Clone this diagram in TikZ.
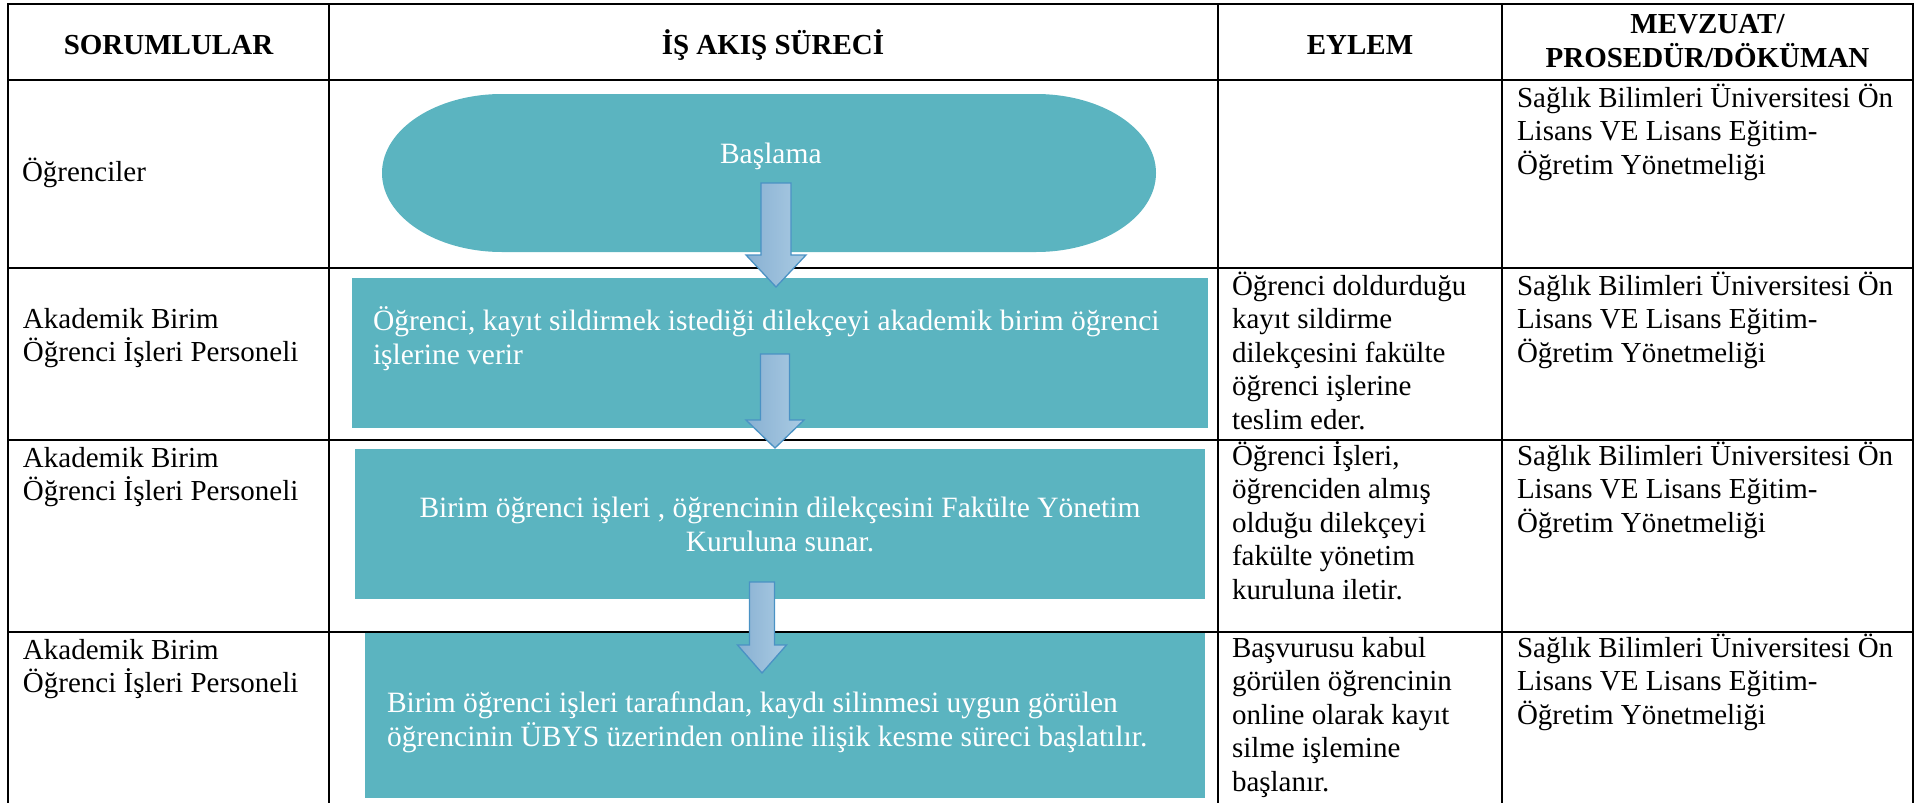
\documentclass[tikz,border=0pt]{standalone}
\usepackage{fontspec}
\setmainfont{Liberation Serif}
\usetikzlibrary{calc}
\definecolor{tealbox}{RGB}{91,180,192}
\definecolor{arrL}{RGB}{136,176,210}
\definecolor{arrR}{RGB}{170,203,227}
\definecolor{arrE}{RGB}{74,146,196}
\newcommand\tlines[1]{\vtop{\halign{##\hfil\cr #1\crcr}}}
\newcommand\clines[1]{\vtop{\halign{\hfil##\hfil\cr #1\crcr}}}
\newcommand\blockarrow[5]{%
  \path[arrowstyle] ($(#1)+(-#3,0)$) -- ($(#1)+(#3,0)$) -- ($(#2)+(#3,-#5)$) -- ($(#2)+(#4,-#5)$) -- (#2) -- ($(#2)+(-#4,-#5)$) -- ($(#2)+(-#3,-#5)$) -- cycle;}
\tikzset{
  grid/.style={line width=2.6pt, line cap=rect, black},
  body/.style={font=\fontsize{29}{33.6}\selectfont, inner sep=0pt, outer sep=0pt, anchor=base west},
  wbody/.style={font=\fontsize{29.5}{34}\selectfont, inner sep=0pt, outer sep=0pt, anchor=base west, text=white},
  head/.style={font=\bfseries\fontsize{29}{33.6}\selectfont, inner sep=0pt, outer sep=0pt, anchor=base},
  flowbox/.style={fill=tealbox, draw=none, inner sep=0pt, outer sep=0pt, anchor=north west},
  arrowstyle/.style={left color=arrL, right color=arrR, draw=arrE, line width=1.3pt, line join=miter},
}
\begin{document}
\begin{tikzpicture}[x=1pt, y=-1pt]
\useasboundingbox (0,0) rectangle (1928,803);
% table grid
\draw[grid] (8,4) -- (1913,4);
\draw[grid] (8,80) -- (1913,80);
\draw[grid] (8,268) -- (1913,268);
\draw[grid] (8,440) -- (1913,440);
\draw[grid] (8,632) -- (1913,632);
\foreach \xx in {8,329,1218,1502,1913} \draw[grid] (\xx,4) -- (\xx,806);
% header
\node[head] (h1) at (168.5,54) {SORUMLULAR};
\node[head] (h2) at (773,54) {İŞ AKIŞ SÜRECİ};
\node[head] (h3) at (1360,54) {EYLEM};
\node[head] (h4) at (1707.5,34) {MEVZUAT/};
\node[head] (h5) at (1707.5,67) {PROSEDÜR/DÖKÜMAN};
% responsible
\node[body] (r1) at (22,181) {Öğrenciler};
\node[body] (r2) at (23,328) {\tlines{Akademik Birim\cr Öğrenci İşleri Personeli}};
\node[body] (r3) at (23,467) {\tlines{Akademik Birim\cr Öğrenci İşleri Personeli}};
\node[body] (r4) at (23,659) {\tlines{Akademik Birim\cr Öğrenci İşleri Personeli}};
% flow shapes
\path[fill=tealbox] (502,94) -- (1036,94) .. controls (1102.3,94) and (1156,129.4) .. (1156,173)
  .. controls (1156,216.6) and (1102.3,252) .. (1036,252) -- (502,252)
  .. controls (435.7,252) and (382,216.6) .. (382,173) .. controls (382,129.4) and (435.7,94) .. (502,94) -- cycle;
\node[wbody] (start) at (720,163) {Başlama};
\node[flowbox, minimum width=856pt, minimum height=150pt] (b2) at (352,278) {};
\node[flowbox, minimum width=850pt, minimum height=150pt] (b3) at (355,449) {};
\node[flowbox, minimum width=840pt, minimum height=165pt] (b4) at (365,633) {};
\node[wbody] (t2) at (373,330) {\tlines{Öğrenci, kayıt sildirmek istediği dilekçeyi akademik birim öğrenci\cr işlerine verir}};
\node[wbody, anchor=base] (t3) at (780,517) {\clines{Birim öğrenci işleri , öğrencinin dilekçesini Fakülte Yönetim\cr Kuruluna sunar.}};
\node[wbody] (t4) at (387,712) {\tlines{Birim öğrenci işleri tarafından, kaydı silinmesi uygun görülen\cr öğrencinin ÜBYS üzerinden online ilişik kesme süreci başlatılır.}};
% arrows
\coordinate (a1s) at (776,183);
\coordinate (a1t) at (776,287);
\coordinate (a2s) at (775,354);
\coordinate (a2t) at (775,448);
\coordinate (a3s) at (762,582);
\coordinate (a3t) at (762,673);
\blockarrow{a1s}{a1t}{15}{30}{32}
\blockarrow{a2s}{a2t}{14.5}{29}{28}
\blockarrow{a3s}{a3t}{12.5}{24.5}{28}
% actions
\node[body] (e2) at (1232,295) {\tlines{Öğrenci doldurduğu\cr kayıt sildirme\cr dilekçesini fakülte\cr öğrenci işlerine\cr teslim eder.}};
\node[body] (e3) at (1232,465) {\tlines{Öğrenci İşleri,\cr öğrenciden almış\cr olduğu dilekçeyi\cr fakülte yönetim\cr kuruluna iletir.}};
\node[body] (e4) at (1232,657) {\tlines{Başvurusu kabul\cr görülen öğrencinin\cr online olarak kayıt\cr silme işlemine\cr başlanır.}};
% regulations
\node[body] (m1) at (1517,107) {\tlines{Sağlık Bilimleri Üniversitesi Ön\cr Lisans VE Lisans Eğitim-\cr Öğretim Yönetmeliği}};
\node[body] (m2) at (1517,295) {\tlines{Sağlık Bilimleri Üniversitesi Ön\cr Lisans VE Lisans Eğitim-\cr Öğretim Yönetmeliği}};
\node[body] (m3) at (1517,465) {\tlines{Sağlık Bilimleri Üniversitesi Ön\cr Lisans VE Lisans Eğitim-\cr Öğretim Yönetmeliği}};
\node[body] (m4) at (1517,657) {\tlines{Sağlık Bilimleri Üniversitesi Ön\cr Lisans VE Lisans Eğitim-\cr Öğretim Yönetmeliği}};
\end{tikzpicture}
\end{document}
